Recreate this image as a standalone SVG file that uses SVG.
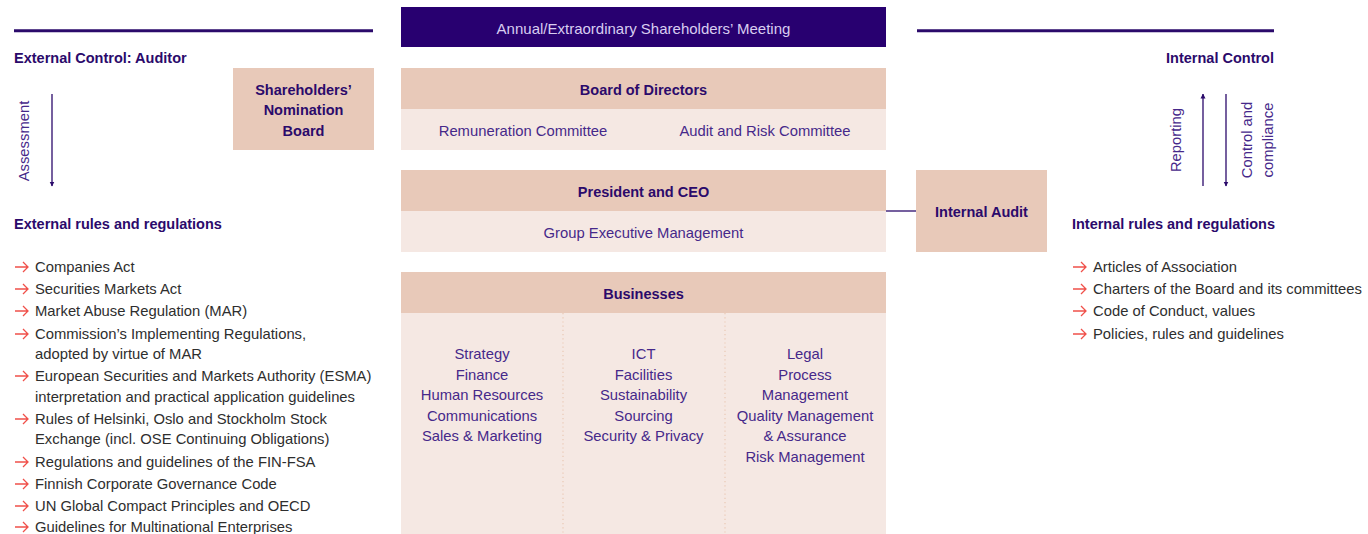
<svg xmlns="http://www.w3.org/2000/svg" width="1368" height="534" viewBox="0 0 1368 534">
<defs>
<style>
text{font-family:"Liberation Sans",Arial,sans-serif;}
.h{font-size:14.5px;font-weight:bold;fill:#2b0a6b;}
.b{font-size:14.8px;fill:#46288a;}
.l{font-size:14.8px;fill:#2e2e2e;}
.c{text-anchor:middle;}
.r{text-anchor:end;}
.hdr{fill:#e8c9b9;}
.sub{fill:#f5e8e3;}
.ln{stroke:#2b0a6b;stroke-width:1.3;fill:none;}
.bul{stroke:#f0504a;stroke-width:1.3;fill:none;}
</style>
<marker id="ah" viewBox="0 0 10 10" refX="9" refY="5" markerWidth="5" markerHeight="6" orient="auto-start-reverse" markerUnits="userSpaceOnUse">
<path d="M0,0 L10,5 L0,10 z" fill="#2b0a6b"/>
</marker>
<symbol id="bullet" overflow="visible">
<path class="bul" d="M0,0 H13 M8,-5 L13,0 L8,5"/>
</symbol>
</defs>
<rect width="1368" height="534" fill="#ffffff"/>

<g id="topline-left"><line x1="14" y1="30.7" x2="373" y2="30.7" stroke="#2b0a6b" stroke-width="3"/></g>
<g id="topline-right"><line x1="917" y1="30.7" x2="1274" y2="30.7" stroke="#2b0a6b" stroke-width="3"/></g>

<g id="shareholders-meeting">
<rect x="401" y="7" width="485" height="40" fill="#280070"/>
<text class="c" x="643.5" y="34" style="font-size:15px;fill:#d8cdf0;">Annual/Extraordinary Shareholders’ Meeting</text>
</g>

<g id="board-of-directors">
<rect class="hdr" x="401" y="68" width="485" height="41"/>
<rect class="sub" x="401" y="109" width="485" height="41"/>
<text class="h c" x="643.5" y="95">Board of Directors</text>
<text class="b c" x="523" y="136">Remuneration Committee</text>
<text class="b c" x="765" y="136">Audit and Risk Committee</text>
</g>

<g id="nomination-board">
<rect class="hdr" x="233" y="68" width="141" height="82"/>
<text class="h c" x="303.5" y="95">Shareholders’</text>
<text class="h c" x="303.5" y="115">Nomination</text>
<text class="h c" x="303.5" y="136">Board</text>
</g>

<g id="president-ceo">
<rect class="hdr" x="401" y="170" width="485" height="41"/>
<rect class="sub" x="401" y="211" width="485" height="41"/>
<text class="h c" x="643.5" y="197">President and CEO</text>
<text class="b c" x="643.5" y="238">Group Executive Management</text>
</g>

<g id="internal-audit">
<rect class="hdr" x="916" y="170" width="131" height="82"/>
<text class="h c" x="981.5" y="217">Internal Audit</text>
</g>

<g id="businesses">
<rect class="hdr" x="401" y="272" width="485" height="41"/>
<rect class="sub" x="401" y="313" width="485" height="221"/>
<text class="h c" x="643.5" y="299">Businesses</text>
<line x1="563" y1="313" x2="563" y2="534" stroke="#eac8b4" stroke-width="1.2" stroke-dasharray="1.2,3"/>
<line x1="725" y1="313" x2="725" y2="534" stroke="#eac8b4" stroke-width="1.2" stroke-dasharray="1.2,3"/>
<g class="b c">
<text x="482" y="359">Strategy</text>
<text x="482" y="380">Finance</text>
<text x="482" y="400">Human Resources</text>
<text x="482" y="421">Communications</text>
<text x="482" y="441">Sales &amp; Marketing</text>
<text x="643.5" y="359">ICT</text>
<text x="643.5" y="380">Facilities</text>
<text x="643.5" y="400">Sustainability</text>
<text x="643.5" y="421">Sourcing</text>
<text x="643.5" y="441">Security &amp; Privacy</text>
<text x="805" y="359">Legal</text>
<text x="805" y="380">Process</text>
<text x="805" y="400">Management</text>
<text x="805" y="421">Quality Management</text>
<text x="805" y="441">&amp; Assurance</text>
<text x="805" y="462">Risk Management</text>
</g>
</g>

<g id="external-control">
<text class="h" x="14" y="63">External Control: Auditor</text>
<text class="b c" transform="translate(29,141) rotate(-90)">Assessment</text>
</g>

<g id="external-rules">
<text class="h" x="14" y="229">External rules and regulations</text>
<g class="l">
<text x="35" y="272">Companies Act</text>
<text x="35" y="294">Securities Markets Act</text>
<text x="35" y="316">Market Abuse Regulation (MAR)</text>
<text x="35" y="339">Commission’s Implementing Regulations,</text>
<text x="35" y="359">adopted by virtue of MAR</text>
<text x="35" y="381">European Securities and Markets Authority (ESMA)</text>
<text x="35" y="402">interpretation and practical application guidelines</text>
<text x="35" y="424">Rules of Helsinki, Oslo and Stockholm Stock</text>
<text x="35" y="444">Exchange (incl. OSE Continuing Obligations)</text>
<text x="35" y="467">Regulations and guidelines of the FIN-FSA</text>
<text x="35" y="489">Finnish Corporate Governance Code</text>
<text x="35" y="511">UN Global Compact Principles and OECD</text>
<text x="35" y="532">Guidelines for Multinational Enterprises</text>
</g>
<use href="#bullet" x="15" y="267"/>
<use href="#bullet" x="15" y="289"/>
<use href="#bullet" x="15" y="311"/>
<use href="#bullet" x="15" y="334"/>
<use href="#bullet" x="15" y="376"/>
<use href="#bullet" x="15" y="419"/>
<use href="#bullet" x="15" y="462"/>
<use href="#bullet" x="15" y="484"/>
<use href="#bullet" x="15" y="506"/>
<use href="#bullet" x="15" y="527"/>
</g>

<g id="internal-control">
<text class="h r" x="1274" y="63">Internal Control</text>
<text class="b c" transform="translate(1181,140) rotate(-90)">Reporting</text>
<text class="b c" transform="translate(1252,140) rotate(-90)">Control and</text>
<text class="b c" transform="translate(1273,140) rotate(-90)">compliance</text>
</g>

<g id="internal-rules">
<text class="h r" x="1275" y="229">Internal rules and regulations</text>
<g class="l">
<text x="1093" y="272">Articles of Association</text>
<text x="1093" y="294">Charters of the Board and its committees</text>
<text x="1093" y="316">Code of Conduct, values</text>
<text x="1093" y="339">Policies, rules and guidelines</text>
</g>
<use href="#bullet" x="1073" y="267"/>
<use href="#bullet" x="1073" y="289"/>
<use href="#bullet" x="1073" y="311"/>
<use href="#bullet" x="1073" y="334"/>
</g>

<g id="connectors">
<line class="ln" x1="52" y1="94" x2="52" y2="186" marker-end="url(#ah)"/>
<line class="ln" x1="1203" y1="186" x2="1203" y2="94" marker-end="url(#ah)"/>
<line class="ln" x1="1226" y1="94" x2="1226" y2="186" marker-end="url(#ah)"/>
<line class="ln" x1="886" y1="211" x2="916" y2="211"/>
</g>
</svg>
